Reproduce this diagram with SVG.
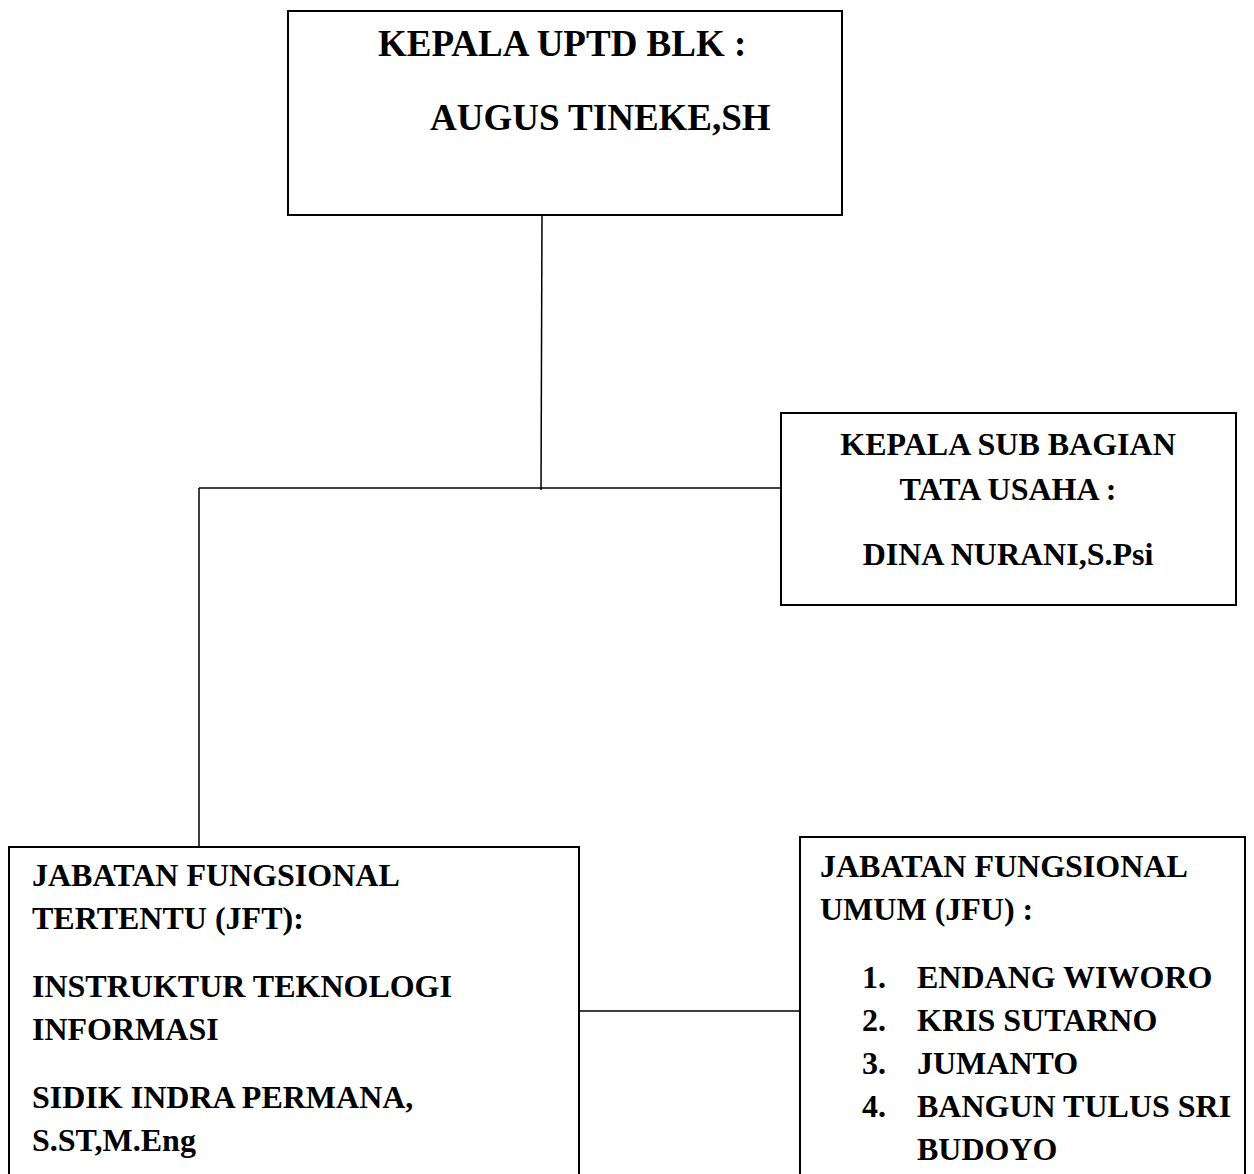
<svg xmlns="http://www.w3.org/2000/svg" width="1254" height="1174" viewBox="0 0 1254 1174">
<style>
.box{fill:#fff;stroke:#000;stroke-width:2}
.ln{fill:none;stroke:#000;stroke-width:1.5}
text{font-family:"Liberation Serif","Times New Roman",serif;font-weight:bold;fill:#000}
.big{font-size:37px}
.t{font-size:32px}
</style>
<rect width="1254" height="1174" fill="#fff"/>
<g id="connectors">
<line class="ln" x1="542" y1="216" x2="541" y2="490"/>
<line class="ln" x1="199" y1="488" x2="781" y2="488"/>
<line class="ln" x1="199" y1="488" x2="199" y2="847"/>
<line class="ln" x1="576" y1="1011" x2="800" y2="1011"/>
</g>
<g id="kepala-uptd">
<rect class="box" x="288" y="11" width="554" height="204"/>
<text class="big" x="378" y="56">KEPALA UPTD BLK :</text>
<text class="big" x="430" y="130">AUGUS TINEKE,SH</text>
</g>
<g id="kasubag-tu">
<rect class="box" x="781" y="413" width="455" height="192"/>
<text class="t" x="1008" y="455" text-anchor="middle">KEPALA SUB BAGIAN</text>
<text class="t" x="1008" y="500" text-anchor="middle">TATA USAHA :</text>
<text class="t" x="1008" y="565" text-anchor="middle">DINA NURANI,S.Psi</text>
</g>
<g id="jft">
<rect class="box" x="9" y="847" width="570" height="340"/>
<text class="t" x="32" y="886">JABATAN FUNGSIONAL</text>
<text class="t" x="32" y="929">TERTENTU (JFT):</text>
<text class="t" x="32" y="997">INSTRUKTUR TEKNOLOGI</text>
<text class="t" x="32" y="1040">INFORMASI</text>
<text class="t" x="32" y="1108">SIDIK INDRA PERMANA,</text>
<text class="t" x="32" y="1151">S.ST,M.Eng</text>
</g>
<g id="jfu">
<rect class="box" x="800" y="837" width="445" height="350"/>
<text class="t" x="820" y="877">JABATAN FUNGSIONAL</text>
<text class="t" x="820" y="920">UMUM (JFU) :</text>
<text class="t" x="862" y="988">1.</text>
<text class="t" x="917" y="988">ENDANG WIWORO</text>
<text class="t" x="862" y="1031">2.</text>
<text class="t" x="917" y="1031">KRIS SUTARNO</text>
<text class="t" x="862" y="1074">3.</text>
<text class="t" x="917" y="1074">JUMANTO</text>
<text class="t" x="862" y="1117">4.</text>
<text class="t" x="917" y="1117">BANGUN TULUS SRI</text>
<text class="t" x="917" y="1160">BUDOYO</text>
</g>
</svg>
